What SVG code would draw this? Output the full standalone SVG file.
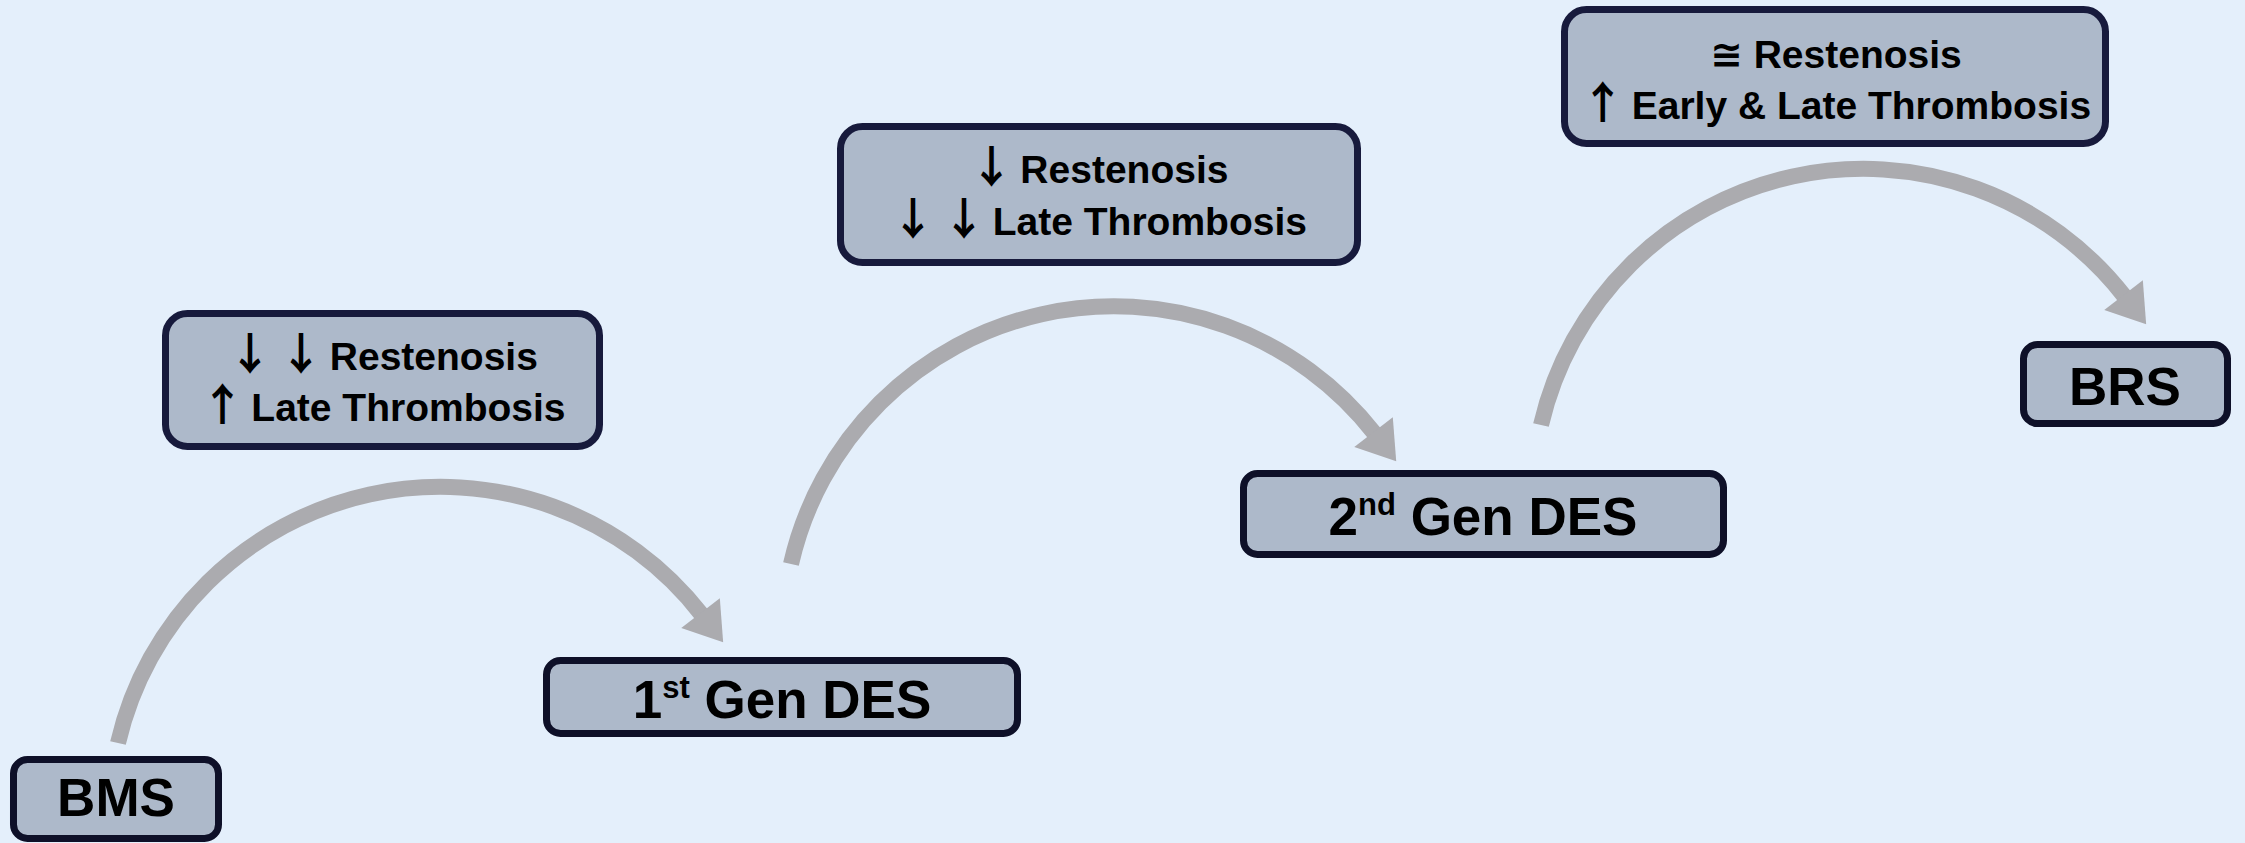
<svg xmlns="http://www.w3.org/2000/svg" width="2245" height="843" viewBox="0 0 2245 843">
<style>
.node rect{fill:#ADB9CA;stroke:#0E1028;stroke-width:7}
.lab rect{fill:#ADB9CA;stroke:#171A3C;stroke-width:7}
.node text{font-family:"Liberation Sans",Arial,sans-serif;font-weight:bold;font-size:53px;fill:#000;text-anchor:middle}
.lab text{font-family:"Liberation Sans","DejaVu Sans",sans-serif;font-weight:bold;font-size:39px;fill:#000;text-anchor:middle}
.ar{font-family:"Noto Sans CJK SC","DejaVu Sans",sans-serif;font-weight:bold;font-size:44px;letter-spacing:-4px}
.arc{fill:none;stroke:#ABABAF;stroke-width:16;marker-end:url(#head)}
</style>
<defs>
<marker id="head" markerUnits="userSpaceOnUse" markerWidth="40" markerHeight="50" viewBox="-2 -21 32 42" refX="0" refY="0" orient="auto">
<path d="M-2,-20.5 L29,0 L-2,20.5 Z" fill="#ABABAF"/>
</marker>
</defs>
<rect width="2245" height="843" fill="#E4EFFB"/>
<g id="connectors">
<path class="arc" d="M118,743 A331,331 0 0 1 702,615"/>
<path class="arc" d="M791,564 A331,331 0 0 1 1375,434"/>
<path class="arc" d="M1541,425 A331,331 0 0 1 2125,297"/>
</g>
<g id="bms" class="node">
<rect x="13.5" y="759.5" width="205" height="79" rx="14"/>
<text x="116" y="816">BMS</text>
</g>
<g id="gen1" class="node">
<rect x="546.5" y="660.5" width="471" height="73" rx="14"/>
<text x="782" y="718">1<tspan font-size="31" dy="-20">st</tspan><tspan dy="20"> Gen DES</tspan></text>
</g>
<g id="gen2" class="node">
<rect x="1243.5" y="473.5" width="480" height="81" rx="14"/>
<text x="1483" y="535">2<tspan font-size="31" dy="-20">nd</tspan><tspan dy="20"> Gen DES</tspan></text>
</g>
<g id="brs" class="node">
<rect x="2023.5" y="344.5" width="204" height="79" rx="14"/>
<text x="2125" y="405">BRS</text>
</g>
<g id="label1" class="lab">
<rect x="165.5" y="313.5" width="434" height="133" rx="22"/>
<text x="383" y="370"><tspan class="ar">↓</tspan> <tspan class="ar">↓</tspan> Restenosis</text>
<text x="383" y="421"><tspan class="ar">↑</tspan> Late Thrombosis</text>
</g>
<g id="label2" class="lab">
<rect x="840.5" y="126.5" width="517" height="136" rx="22"/>
<text x="1099" y="183"><tspan class="ar">↓</tspan> Restenosis</text>
<text x="1099" y="235"><tspan class="ar">↓</tspan> <tspan class="ar">↓</tspan> Late Thrombosis</text>
</g>
<g id="label3" class="lab">
<rect x="1564.5" y="9.5" width="541" height="134" rx="22"/>
<text x="1836" y="68">≅ Restenosis</text>
<text x="1836" y="119"><tspan class="ar">↑</tspan> Early &amp; Late Thrombosis</text>
</g>
</svg>
